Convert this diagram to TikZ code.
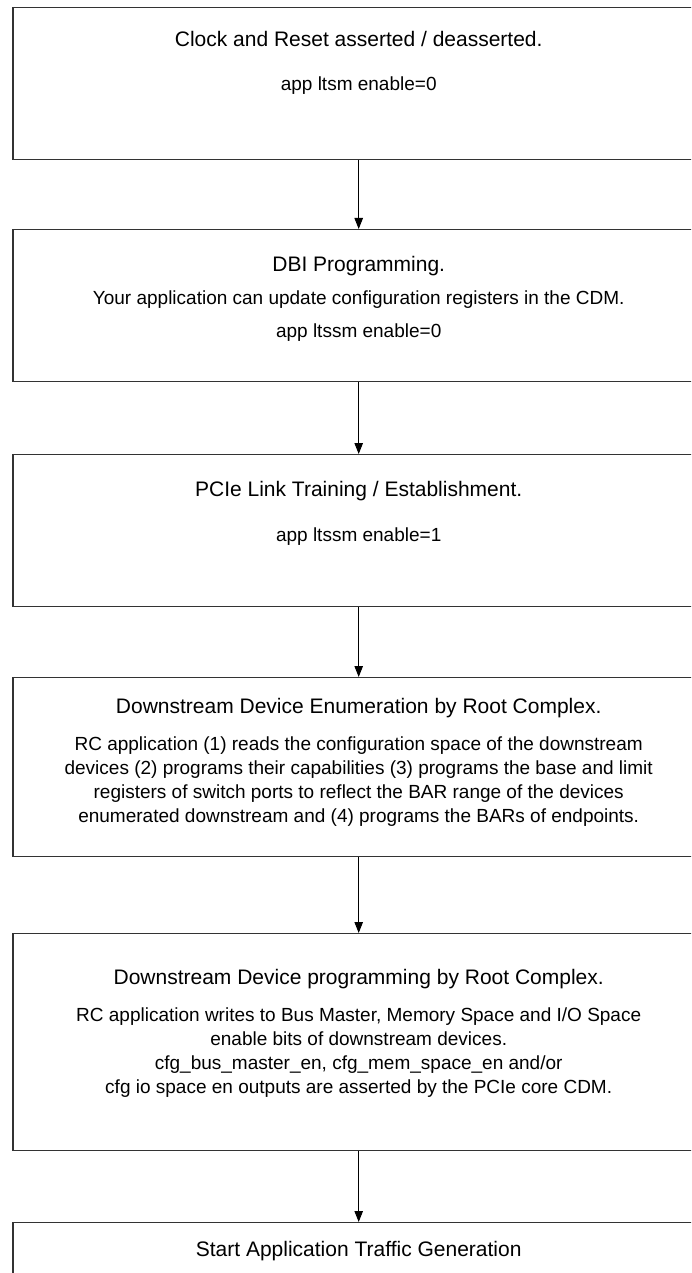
\documentclass[tikz,border=0pt]{standalone}
\usepackage{fontspec}
\setmainfont{Liberation Sans}
\usetikzlibrary{arrows.meta}
\begin{document}
\begin{tikzpicture}[x=1pt,y=-1pt,
  stepbox/.style={draw=black!80, line width=1.2pt, rectangle, minimum width=691.4pt, inner sep=0pt, anchor=north},
  ttl/.style={inner sep=0pt, font=\fontsize{21}{24}\selectfont, text height=0.72em, text depth=0pt},
  txt/.style={inner sep=0pt, font=\fontsize{19}{24}\selectfont, align=center},
  arr/.style={draw=black, line width=1pt, -{Triangle[length=11pt,width=8.5pt]}}]
\useasboundingbox (0,0) rectangle (691,1273);
\clip (0,0) rectangle (691,1273);
\def\cx{358.7}
% boxes
\node[stepbox, minimum height=152pt] (b1) at (\cx,7) {};
\node[stepbox, minimum height=152pt] (b2) at (\cx,229) {};
\node[stepbox, minimum height=152pt] (b3) at (\cx,454) {};
\node[stepbox, minimum height=179pt] (b4) at (\cx,677) {};
\node[stepbox, minimum height=217pt] (b5) at (\cx,933) {};
\node[stepbox, minimum height=120pt] (b6) at (\cx,1222) {};
% texts
\node[ttl] (t1) at (\cx,43) {Clock and Reset asserted / deasserted.};
\node[txt] (t1b) at (\cx,86) {app ltsm enable=0};
\node[ttl] (t2) at (\cx,268) {DBI Programming.};
\node[txt] (t2b) at (\cx,300) {Your application can update configuration registers in the CDM.};
\node[txt] (t2c) at (\cx,333) {app ltssm enable=0};
\node[ttl] (t3) at (\cx,493) {PCIe Link Training / Establishment.};
\node[txt] (t3b) at (\cx,537) {app ltssm enable=1};
\node[ttl] (t4) at (\cx,710) {Downstream Device Enumeration by Root Complex.};
\node[txt] (t4b) at (\cx,782) {RC application (1) reads the configuration space of the downstream\\devices (2) programs their capabilities (3) programs the base and limit\\registers of switch ports to reflect the BAR range of the devices\\enumerated downstream and (4) programs the BARs of endpoints.};
\node[ttl] (t5) at (\cx,981) {Downstream Device programming by Root Complex.};
\node[txt] (t5b) at (\cx,1053) {RC application writes to Bus Master, Memory Space and I/O Space\\enable bits of downstream devices.\\cfg\_bus\_master\_en, cfg\_mem\_space\_en and/or\\cfg io space en outputs are asserted by the PCIe core CDM.};
\node[ttl] (t6) at (\cx,1253) {Start Application Traffic Generation};
% arrows
\draw[arr] (b1.south) -- (b2.north);
\draw[arr] (b2.south) -- (b3.north);
\draw[arr] (b3.south) -- (b4.north);
\draw[arr] (b4.south) -- (b5.north);
\draw[arr] (b5.south) -- (b6.north);
\end{tikzpicture}
\end{document}
